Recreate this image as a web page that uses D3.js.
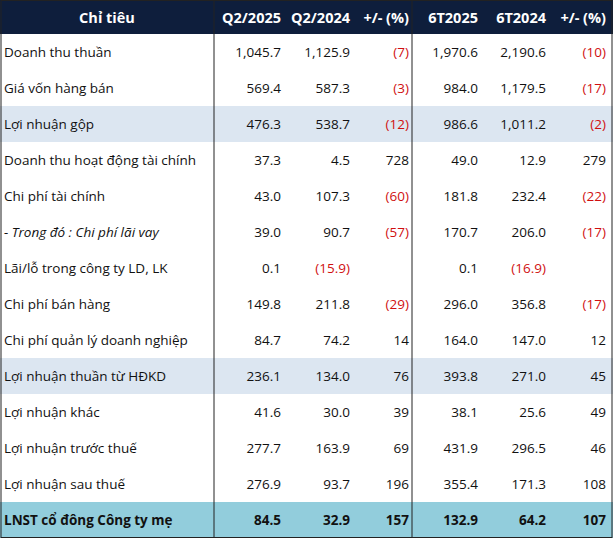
<!DOCTYPE html>
<html><head><meta charset="utf-8">
<script src="https://cdn.jsdelivr.net/npm/d3@7"></script>
<style>body{margin:0;background:#fff}</style>
</head><body><svg id="t" width="613" height="540"></svg>
<script>
// Table data \\
var headers = ["Chỉ tiêu", "Q2/2025", "Q2/2024", "+/- (%)", "6T2025", "6T2024", "+/- (%)"];
var labels = ["Doanh thu thuần", "Giá vốn hàng bán", "Lợi nhuận gộp", "Doanh thu hoạt động tài chính",
  "Chi phí tài chính", "- Trong đó : Chi phí lãi vay", "Lãi/lỗ trong công ty LD, LK", "Chi phí bán hàng",
  "Chi phí quản lý doanh nghiệp", "Lợi nhuận thuần từ HĐKD", "Lợi nhuận khác", "Lợi nhuận trước thuế",
  "Lợi nhuận sau thuế", "LNST cổ đông Công ty mẹ"];
var q2025 = [1045.7, 569.4, 476.3, 37.3, 43.0, 39.0, 0.1, 149.8, 84.7, 236.1, 41.6, 277.7, 276.9, 84.5];
var q2024 = [1125.9, 587.3, 538.7, 4.5, 107.3, 90.7, -15.9, 211.8, 74.2, 134.0, 30.0, 163.9, 93.7, 32.9];
var qPct = [-7, -3, -12, 728, -60, -57, null, -29, 14, 76, 39, 69, 196, 157];
var h2025 = [1970.6, 984.0, 986.6, 49.0, 181.8, 170.7, 0.1, 296.0, 164.0, 393.8, 38.1, 431.9, 355.4, 132.9];
var h2024 = [2190.6, 1179.5, 1011.2, 12.9, 232.4, 206.0, -16.9, 356.8, 147.0, 271.0, 25.6, 296.5, 171.3, 64.2];
var hPct = [-10, -17, -2, 279, -22, -17, null, -17, 12, 45, 49, 46, 108, 107];
var shaded = [2, 9];

var svg = d3.select("#t");
var font = "'Open Sans', sans-serif";
var headH = 34, rowH = 36;
var y = d3.scaleBand().domain(d3.range(labels.length)).range([headH, headH + rowH * labels.length]);
var colRight = [null, 281, 350, 409, 478, 546, 606];
var fmt1 = d3.format(",.1f");

function numText(v, dec) {
  if (v == null) return "";
  var s = dec ? fmt1(Math.abs(v)) : d3.format(",")(Math.abs(v));
  return v < 0 ? "(" + s + ")" : s;
}

svg.append("rect").attr("x", 0).attr("y", 0).attr("width", 613).attr("height", headH).attr("fill", "#0e1e3c");

labels.forEach(function(l, i) {
  var fill = i == labels.length - 1 ? "#92cddc" : (shaded.indexOf(i) >= 0 ? "#dce6f1" : "#fff");
  svg.append("rect").attr("x", 0).attr("y", y(i)).attr("width", 613).attr("height", rowH).attr("fill", fill);
});

headers.forEach(function(h, j) {
  svg.append("text").attr("x", j == 0 ? 107 : colRight[j]).attr("y", 23)
    .attr("text-anchor", j == 0 ? "middle" : "end")
    .attr("font-family", font).attr("font-size", 14.5).attr("font-weight", "bold").attr("fill", "#fff").text(h);
});

var cols = [q2025, q2024, qPct, h2025, h2024, hPct];
labels.forEach(function(l, i) {
  var last = i == labels.length - 1;
  var cy = y(i) + rowH / 2 + 5;
  svg.append("text").attr("x", 4).attr("y", cy).attr("font-family", font).attr("font-size", 13.5)
    .attr("font-weight", last ? "bold" : "normal").attr("font-style", i == 5 ? "italic" : "normal")
    .attr("fill", "#111").text(l);
  cols.forEach(function(c, k) {
    var pct = k == 2 || k == 5;
    var v = c[i];
    svg.append("text").attr("x", colRight[k + 1]).attr("y", cy).attr("text-anchor", "end")
      .attr("font-family", font).attr("font-size", 13.5).attr("font-weight", last ? "bold" : "normal")
      .attr("fill", v < 0 ? "#d01010" : "#111").text(numText(v, !pct));
  });
});

// Borders \\
var bottom = headH + rowH * labels.length;
svg.append("rect").attr("x", 1).attr("y", 0.5).attr("width", 611).attr("height", bottom - 1)
  .attr("fill", "none").attr("stroke", "#222").attr("stroke-width", 1);
[214, 412].forEach(function(x) {
  svg.append("line").attr("x1", x).attr("x2", x).attr("y1", 0).attr("y2", bottom).attr("stroke", "#222");
});
</script></body></html>
